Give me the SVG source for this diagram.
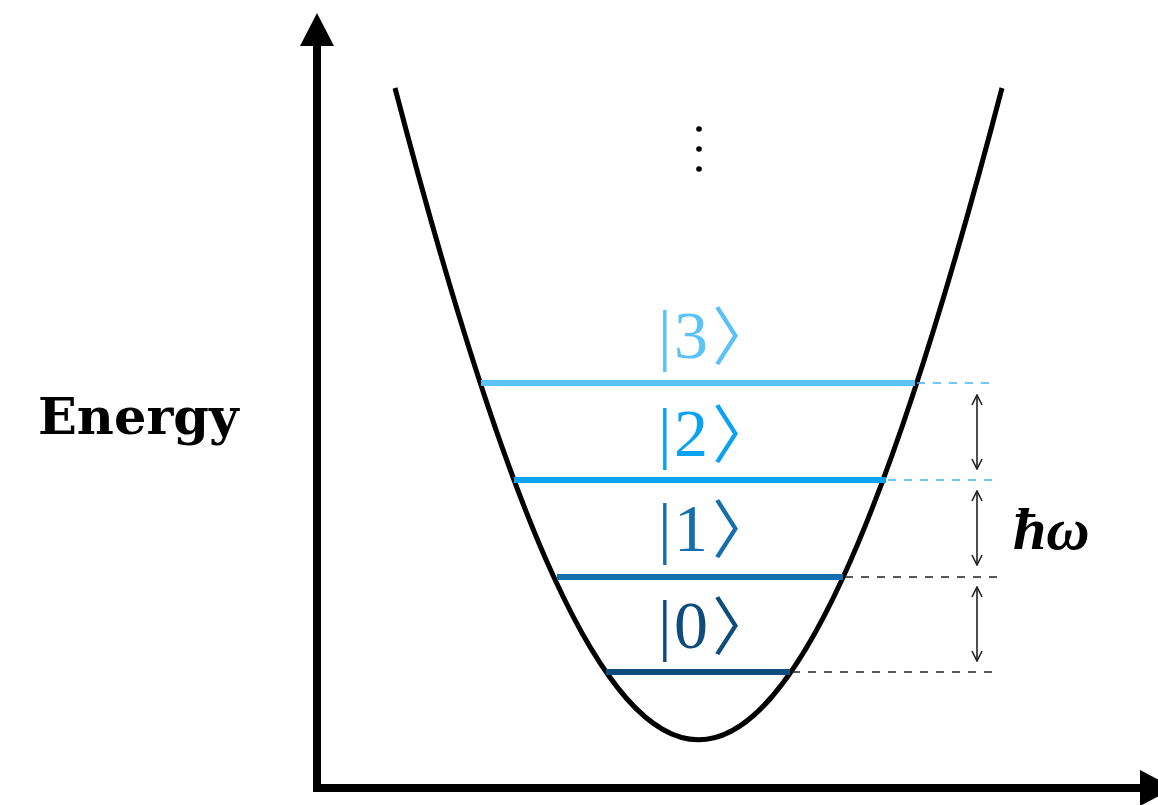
<svg xmlns="http://www.w3.org/2000/svg" width="1158" height="805" viewBox="0 0 1158 805">
<style>
.axis{stroke:#000;stroke-width:8;fill:none}
.well{stroke:#000;stroke-width:5;fill:none}
.lvl{stroke-width:6;fill:none}
.dash{stroke-width:1.5;stroke-dasharray:8 8;fill:none}
.dbl{stroke:#222;stroke-width:1.6;fill:none;marker-start:url(#ah);marker-end:url(#ah)}
.ket{font-family:"Liberation Serif","DejaVu Serif",serif;font-size:68px}
.br{font-family:"Noto Sans CJK JP","DejaVu Sans",sans-serif;font-weight:400;font-size:63px}
</style>
<defs>
<marker id="ah" viewBox="0 0 12 12" refX="11" refY="6" markerWidth="12" markerHeight="12" markerUnits="userSpaceOnUse" orient="auto-start-reverse">
<path d="M1,1 L11,6 L1,11" fill="none" stroke="#222" stroke-width="1.6"/>
</marker>
</defs>
<rect width="1158" height="805" fill="#fff"/>
<g id="axes">
<line class="axis" x1="317" y1="791" x2="317" y2="44"/>
<polygon points="317,13 300,46 334,46" fill="#000"/>
<line class="axis" x1="313" y1="788" x2="1142" y2="788"/>
<polygon points="1140,770 1174,788 1140,806" fill="#000"/>
</g>
<g id="well">
<path class="well" d="M395,88 C622,957 775,957 1002,88"/>
</g>
<g id="dots" fill="#000">
<circle cx="699" cy="129" r="2.8"/>
<circle cx="699" cy="149" r="2.8"/>
<circle cx="699" cy="169" r="2.8"/>
</g>
<g id="level0">
<line class="lvl" x1="606" y1="672" x2="790" y2="672" stroke="#0d4c7d"/>
<text class="ket" fill="#0d4c7d" y="648"><tspan x="658">|</tspan><tspan x="674">0</tspan><tspan class="br" x="712" y="649">〉</tspan></text>
</g>
<g id="level1">
<line class="lvl" x1="557" y1="577" x2="843" y2="577" stroke="#156fae"/>
<text class="ket" fill="#156fae" y="551"><tspan x="658">|</tspan><tspan x="674">1</tspan><tspan class="br" x="712" y="552">〉</tspan></text>
</g>
<g id="level2">
<line class="lvl" x1="514" y1="480" x2="886" y2="480" stroke="#0aa2f2"/>
<text class="ket" fill="#0aa2f2" y="456"><tspan x="658">|</tspan><tspan x="674">2</tspan><tspan class="br" x="712" y="457">〉</tspan></text>
</g>
<g id="level3">
<line class="lvl" x1="481" y1="383" x2="915" y2="383" stroke="#5ac2f6"/>
<text class="ket" fill="#5ac2f6" y="358"><tspan x="658">|</tspan><tspan x="674">3</tspan><tspan class="br" x="712" y="359">〉</tspan></text>
</g>
<g id="connectors">
<line class="dash" x1="917" y1="383" x2="997" y2="383" stroke="#3fb2f3"/>
<line class="dash" x1="888" y1="480" x2="997" y2="480" stroke="#3fb2f3"/>
<line class="dash" x1="845" y1="577" x2="997" y2="577" stroke="#222"/>
<line class="dash" x1="792" y1="672" x2="997" y2="672" stroke="#222"/>
<line class="dbl" x1="977" y1="395" x2="977" y2="469"/>
<line class="dbl" x1="977" y1="491" x2="977" y2="565"/>
<line class="dbl" x1="977" y1="587" x2="977" y2="661"/>
</g>
<g id="hbar-omega">
<text x="1013" y="549" font-family="Liberation Serif, DejaVu Serif, serif" font-style="italic" font-weight="bold" font-size="60" fill="#000">ħω</text>
</g>
<g id="energy-label">
<text x="38" y="434" font-family="DejaVu Serif, serif" font-weight="bold" font-size="51" fill="#000">Energy</text>
</g>
</svg>
